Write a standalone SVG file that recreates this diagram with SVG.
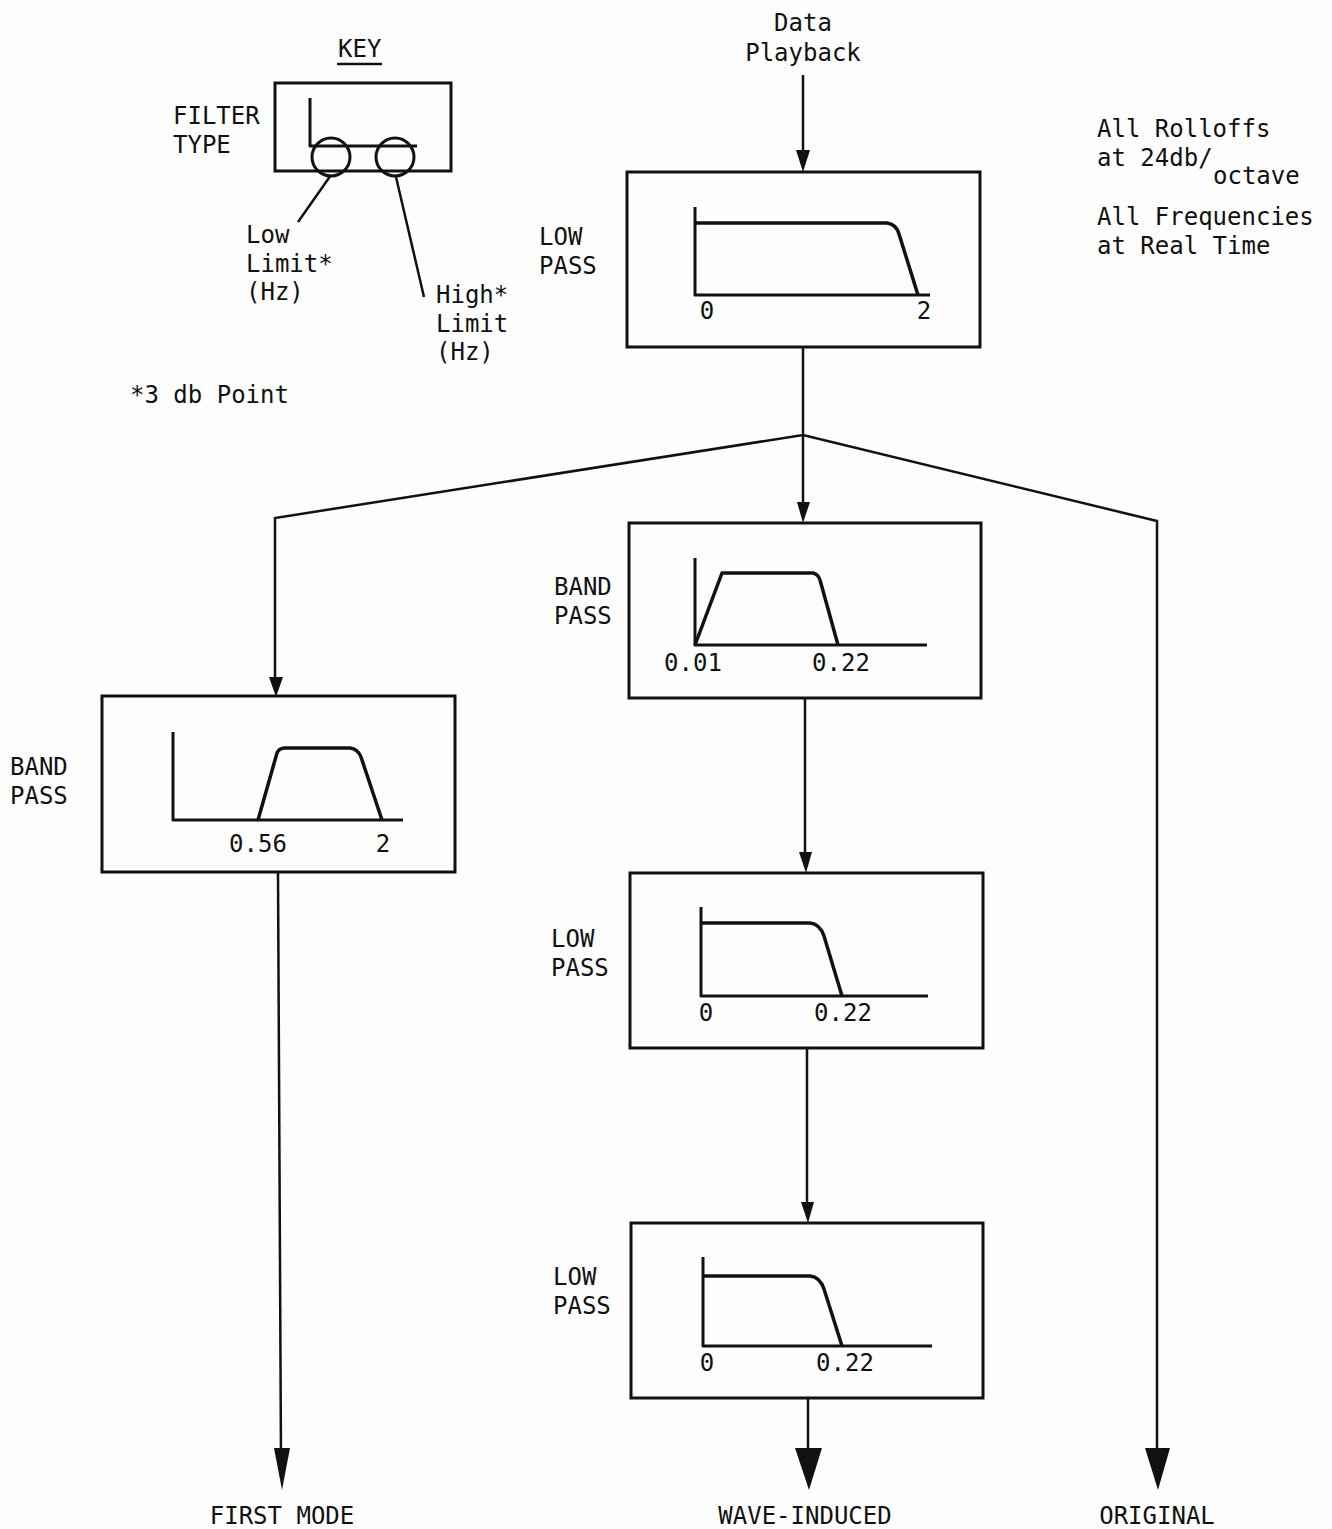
<svg xmlns="http://www.w3.org/2000/svg" width="1332" height="1529" viewBox="0 0 1332 1529">
<style>
text{font-family:"DejaVu Sans Mono","Liberation Mono",monospace;font-size:24px;fill:#111}
.box{fill:none;stroke:#111;stroke-width:3}
.ax{fill:none;stroke:#111;stroke-width:3;stroke-linejoin:round}
.cv{fill:none;stroke:#111;stroke-width:3.5;stroke-linejoin:round}
.ln{fill:none;stroke:#111;stroke-width:2.5}
.ah{fill:#111;stroke:none}
</style>
<rect width="1332" height="1529" fill="#fdfdfd"/>

<g id="key">
<text x="338" y="57">KEY</text>
<line x1="337" y1="64" x2="382" y2="64" class="ln" stroke-width="2"/>
<text x="173" y="124">FILTER</text>
<text x="173" y="153">TYPE</text>
<rect x="275" y="83" width="176" height="88" class="box"/>
<polyline points="310,98 310,146 417,146" class="ax"/>
<circle cx="331" cy="157" r="19" class="ax"/>
<circle cx="395" cy="157" r="19" class="ax"/>
<line x1="331" y1="175" x2="298" y2="222" class="ln"/>
<line x1="396" y1="177" x2="424" y2="297" class="ln"/>
<text x="246" y="243">Low</text>
<text x="246" y="272">Limit*</text>
<text x="246" y="300">(Hz)</text>
<text x="436" y="303">High*</text>
<text x="436" y="332">Limit</text>
<text x="436" y="360">(Hz)</text>
<text x="130" y="403">*3 db Point</text>
</g>

<g id="notes">
<text x="803" y="31" text-anchor="middle">Data</text>
<text x="803" y="61" text-anchor="middle">Playback</text>
<text x="1097" y="137">All Rolloffs</text>
<text x="1097" y="166">at 24db/</text>
<text x="1213" y="184">octave</text>
<text x="1097" y="225">All Frequencies</text>
<text x="1097" y="254">at Real Time</text>
</g>

<g id="lowpass-2">
<text x="539" y="245">LOW</text>
<text x="539" y="274">PASS</text>
<rect x="627" y="172" width="353" height="175" class="box"/>
<polyline points="695,207 695,295 930,295" class="ax"/>
<path d="M695,223 L887,223 Q896,224 899,234 L918,295" class="cv"/>
<text x="707" y="319" text-anchor="middle">0</text>
<text x="924" y="319" text-anchor="middle">2</text>
</g>

<g id="bandpass-001-022">
<text x="554" y="595">BAND</text>
<text x="554" y="624">PASS</text>
<rect x="629" y="523" width="352" height="175" class="box"/>
<polyline points="695,558 695,645 927,645" class="ax"/>
<path d="M695,645 L722,573 L813,573 Q818,574 820,580 L838,645" class="cv"/>
<text x="693" y="671" text-anchor="middle">0.01</text>
<text x="841" y="671" text-anchor="middle">0.22</text>
</g>

<g id="bandpass-056-2">
<text x="10" y="775">BAND</text>
<text x="10" y="804">PASS</text>
<rect x="102" y="696" width="353" height="176" class="box"/>
<polyline points="173,732 173,820 403,820" class="ax"/>
<path d="M258,820 L277,753 Q279,748 285,748 L350,748 Q358,749 361,757 L382,820" class="cv"/>
<text x="258" y="852" text-anchor="middle">0.56</text>
<text x="383" y="852" text-anchor="middle">2</text>
</g>

<g id="lowpass-022-a">
<text x="551" y="947">LOW</text>
<text x="551" y="976">PASS</text>
<rect x="630" y="873" width="353" height="175" class="box"/>
<polyline points="701,907 701,996 928,996" class="ax"/>
<path d="M701,923 L810,923 Q820,924 824,936 L842,996" class="cv"/>
<text x="706" y="1021" text-anchor="middle">0</text>
<text x="843" y="1021" text-anchor="middle">0.22</text>
</g>

<g id="lowpass-022-b">
<text x="553" y="1285">LOW</text>
<text x="553" y="1314">PASS</text>
<rect x="631" y="1223" width="352" height="175" class="box"/>
<polyline points="703,1257 703,1346 932,1346" class="ax"/>
<path d="M703,1276 L810,1276 Q820,1277 824,1289 L842,1346" class="cv"/>
<text x="707" y="1371" text-anchor="middle">0</text>
<text x="845" y="1371" text-anchor="middle">0.22</text>
</g>

<g id="outputs">
<text x="282" y="1524" text-anchor="middle">FIRST MODE</text>
<text x="805" y="1524" text-anchor="middle">WAVE-INDUCED</text>
<text x="1157" y="1524" text-anchor="middle">ORIGINAL</text>
</g>

<g id="connectors">
<line x1="803" y1="75" x2="803" y2="160" class="ln"/>
<polygon points="796,150 810,150 803,172" class="ah"/>
<line x1="803" y1="347" x2="803" y2="435" class="ln"/>
<polyline points="275,685 275,518 803,435 1157,521 1157,1460" class="ln"/>
<polygon points="269,677 283,677 276,697" class="ah"/>
<line x1="803" y1="435" x2="803" y2="512" class="ln"/>
<polygon points="797,502 810,502 803,523" class="ah"/>
<line x1="805" y1="698" x2="805" y2="862" class="ln"/>
<polygon points="799,852 812,852 806,873" class="ah"/>
<line x1="807" y1="1048" x2="807" y2="1212" class="ln"/>
<polygon points="801,1202 814,1202 808,1223" class="ah"/>
<line x1="808" y1="1398" x2="808" y2="1460" class="ln"/>
<polygon points="795,1448 822,1448 809,1490" class="ah"/>
<line x1="278" y1="872" x2="281" y2="1460" class="ln"/>
<polygon points="274,1448 290,1448 282,1490" class="ah"/>
<polygon points="1145,1448 1170,1448 1158,1490" class="ah"/>
</g>
</svg>
